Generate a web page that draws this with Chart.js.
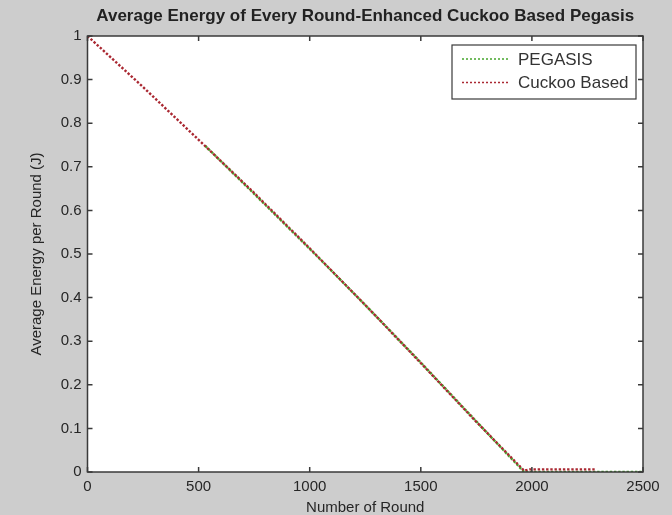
<!DOCTYPE html>
<html>
<head>
<meta charset="utf-8">
<script src="https://cdn.jsdelivr.net/npm/chart.js@4/dist/chart.umd.min.js"></script>
<style>
  html, body { margin: 0; padding: 0; background: #cdcdcd; overflow: hidden; }
  #wrap { width: 672px; height: 515px; position: relative; }
</style>
</head>
<body>
<div id="wrap"><canvas id="chart"></canvas></div>
<script>
// --- Data ---
const titleText = 'Average Energy of Every Round-Enhanced Cuckoo Based Pegasis';
const xTitle = 'Number of Round';
const yTitle = 'Average Energy per Round (J)';
const seriesLabels = ['PEGASIS', 'Cuckoo Based'];
const seriesColors = ['rgb(70,165,45)', 'rgb(170,40,50)'];

const pegasisRounds = [530, 750, 1000, 1250, 1500, 1750, 1965, 2500];
const pegasisEnergy = [0.748, 0.638, 0.512, 0.383, 0.251, 0.116, 0.0, 0.0];

const cuckooRounds = [0, 250, 500, 750, 1000, 1250, 1500, 1750, 1965, 1990, 2290];
const cuckooEnergy = [1.0, 0.883, 0.762, 0.640, 0.513, 0.383, 0.250, 0.115, 0.003, 0.006, 0.006];

const xMin = 0, xMax = 2500, xStep = 500;
const yMin = 0, yMax = 1, yStep = 0.1;

const FONT = '"Liberation Sans", Arial, sans-serif';
const TEXT = '#262626';

// --- Helpers ---
const toPoints = (xs, ys) => xs.map((x, i) => ({ x, y: ys[i] }));

// title centred over the axes, like matlab does
const axesTitle = {
  id: 'axesTitle',
  afterDraw(chart) {
    const { ctx, chartArea: a } = chart;
    ctx.save();
    ctx.font = 'bold 17px ' + FONT;
    ctx.fillStyle = '#222';
    ctx.textAlign = 'center';
    ctx.textBaseline = 'middle';
    ctx.fillText(titleText, (a.left + a.right) / 2, 16);
    ctx.restore();
  }
};

// MATLAB-style box with inward ticks on all four sides
const matlabAxes = {
  id: 'matlabAxes',
  afterDatasetsDraw(chart) {
    const { ctx, chartArea: a, scales: { x, y } } = chart;
    const len = 5;
    ctx.save();
    ctx.strokeStyle = '#3a3a3a';
    ctx.lineWidth = 1.5;
    ctx.strokeRect(a.left, a.top, a.width, a.height);
    ctx.beginPath();
    x.ticks.forEach(t => {
      const px = x.getPixelForValue(t.value);
      ctx.moveTo(px, a.bottom); ctx.lineTo(px, a.bottom - len);
      ctx.moveTo(px, a.top); ctx.lineTo(px, a.top + len);
    });
    y.ticks.forEach(t => {
      const py = y.getPixelForValue(t.value);
      ctx.moveTo(a.left, py); ctx.lineTo(a.left + len, py);
      ctx.moveTo(a.right, py); ctx.lineTo(a.right - len, py);
    });
    ctx.stroke();
    ctx.restore();
  }
};

// legend box in the top right corner of the axes
const boxLegend = {
  id: 'boxLegend',
  afterDraw(chart) {
    const { ctx, chartArea: a } = chart;
    const w = 184, h = 54;
    const bx = a.right - 7 - w, by = a.top + 9;
    ctx.save();
    ctx.fillStyle = '#ffffff';
    ctx.fillRect(bx, by, w, h);
    ctx.strokeStyle = '#3a3a3a';
    ctx.lineWidth = 1.2;
    ctx.strokeRect(bx, by, w, h);
    ctx.font = '17px ' + FONT;
    ctx.textBaseline = 'middle';
    chart.data.datasets.forEach((ds, i) => {
      const cy = by + 14 + i * 23.5;
      ctx.strokeStyle = ds.borderColor;
      ctx.lineWidth = 1.5;
      ctx.setLineDash([2, 2]);
      ctx.beginPath();
      ctx.moveTo(bx + 10, cy); ctx.lineTo(bx + 58, cy);
      ctx.stroke();
      ctx.setLineDash([]);
      ctx.fillStyle = '#333';
      ctx.fillText(ds.label, bx + 66, cy + 1);
    });
    ctx.restore();
  }
};

// white plot area
const plotBg = {
  id: 'plotBg',
  beforeDatasetsDraw(chart) {
    const { ctx, chartArea: a } = chart;
    ctx.save();
    ctx.fillStyle = '#ffffff';
    ctx.fillRect(a.left, a.top, a.width, a.height);
    ctx.restore();
  }
};

new Chart(document.getElementById('chart'), {
  type: 'line',
  data: {
    datasets: [
      { label: seriesLabels[0], data: toPoints(pegasisRounds, pegasisEnergy),
        borderColor: seriesColors[0], borderWidth: 2.4, borderDash: [2.4, 1.8], order: 1 },
      { label: seriesLabels[1], data: toPoints(cuckooRounds, cuckooEnergy),
        borderColor: seriesColors[1], borderWidth: 2.4, borderDash: [2.4, 1.8], order: 0 }
    ]
  },
  options: {
    responsive: true,
    maintainAspectRatio: false,
    animation: false,
    devicePixelRatio: 1,
    elements: { point: { radius: 0 }, line: { tension: 0, fill: false } },
    layout: { padding: { left: 28, right: 29, top: 36, bottom: 0 } },
    plugins: {
      legend: { display: false },
      tooltip: { enabled: false },
      title: { display: false }
    },
    scales: {
      x: {
        type: 'linear', min: xMin, max: xMax,
        afterFit: s => { s.height = 43; s.paddingLeft = 0; s.paddingRight = 0; },
        grid: { display: false, drawTicks: false },
        border: { display: false },
        ticks: { stepSize: xStep, color: TEXT, padding: 6, font: { family: FONT, size: 15 },
                 callback: v => String(v) },
        title: { display: true, text: xTitle, color: TEXT, padding: 0,
                 font: { family: FONT, size: 15, lineHeight: 1 } }
      },
      y: {
        type: 'linear', min: yMin, max: yMax,
        afterFit: s => { s.width = 59.5; },
        grid: { display: false, drawTicks: false },
        border: { display: false },
        ticks: { stepSize: yStep, color: TEXT, padding: 6, font: { family: FONT, size: 15 },
                 callback: v => String(+v.toFixed(1)) },
        title: { display: true, text: yTitle, color: TEXT, padding: 0,
                 font: { family: FONT, size: 15, lineHeight: 1.2 } }
      }
    }
  },
  plugins: [plotBg, matlabAxes, boxLegend, axesTitle]
});
</script>
</body>
</html>
